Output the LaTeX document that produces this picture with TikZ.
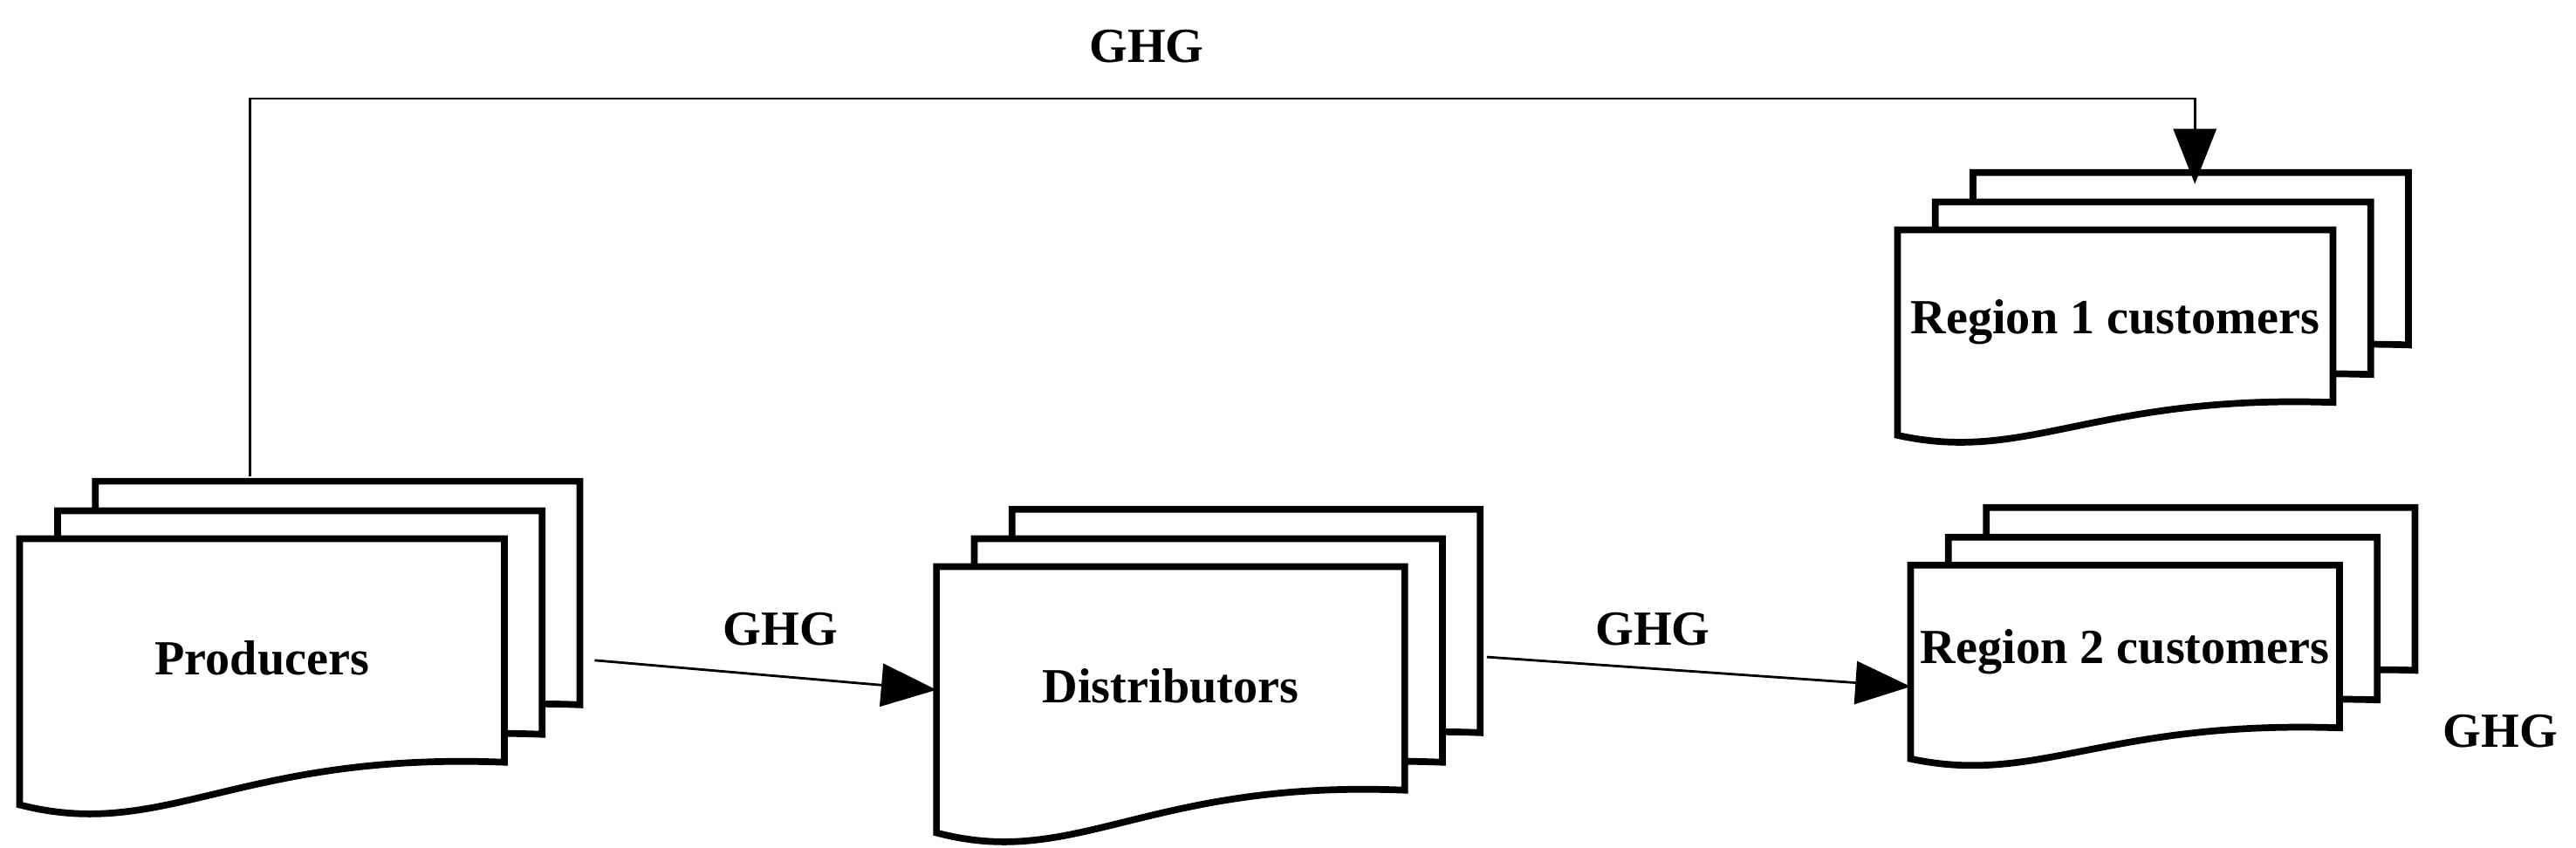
\documentclass[tikz,border=0pt]{standalone}
\usepackage{fontspec}
\setmainfont{Liberation Serif}
\usetikzlibrary{arrows.meta}

% one page of a stack: #1 = x, #2 = top y, #3 = width, #4 = height
\newcommand{\docpage}[4]{%
  \draw[fill=white,line width=2.2pt] (#1,#2) -- (#1+#3,#2) -- (#1+#3,#2+#4-0.16*#4)
    .. controls (#1+0.45*#3,#2+#4-0.2*#4) and (#1+0.3*#3,#2+#4+0.14*#4) .. (#1,#2+#4) -- cycle;}
% stack of three pages: #1 = name, #2 = x, #3 = top y, #4 = width, #5 = height, #6 = label
\newcommand{\docstack}[6]{%
  \docpage{#2+46}{#3-35}{#4}{#5}
  \docpage{#2+23}{#3-17}{#4}{#5}
  \docpage{#2}{#3}{#4}{#5}
  \node[lbl] (#1) at (#2+0.5*#4,#3+0.45*#5) {#6};}

\begin{document}
\begin{tikzpicture}[x=0.01883cm,y=-0.01883cm,
    lbl/.style={font=\fontsize{16}{19}\selectfont\bfseries},
    flow/.style={line width=0.8pt,-{Triangle[length=18pt,width=14pt]}}]
    \useasboundingbox (0,0) rectangle (1568,516);
    % Stacks
    \docstack{producers}{12}{328}{295}{162}{Producers}
    \docstack{distributors}{570}{345}{285}{162}{Distributors}
    \docstack{region1}{1155}{140}{265}{125}{Region 1 customers}
    \docstack{region2}{1163}{344}{261}{118}{Region 2 customers}

    % Anchors for the flows
    \coordinate (pOut) at (362,402);
    \coordinate (dIn) at (570,420);
    \coordinate (dOut) at (905,400);
    \coordinate (rIn) at (1163,418);
    \coordinate (pUp) at (152,290);
    \coordinate (rTop) at (1336,112);

    % Flows
    \draw[flow] (pOut) -- (dIn);
    \draw[flow] (dOut) -- (rIn);
    \draw[flow] (pUp) |- (rTop |- 0,60) -- (rTop);

    % Labels
    \node[lbl] (ghgTop) at (698,28) {GHG};
    \node[lbl] (ghgA) at (475,383) {GHG};
    \node[lbl] (ghgB) at (1006,383) {GHG};
    \node[lbl] (ghgC) at (1522,445) {GHG};
\end{tikzpicture}
\end{document}
